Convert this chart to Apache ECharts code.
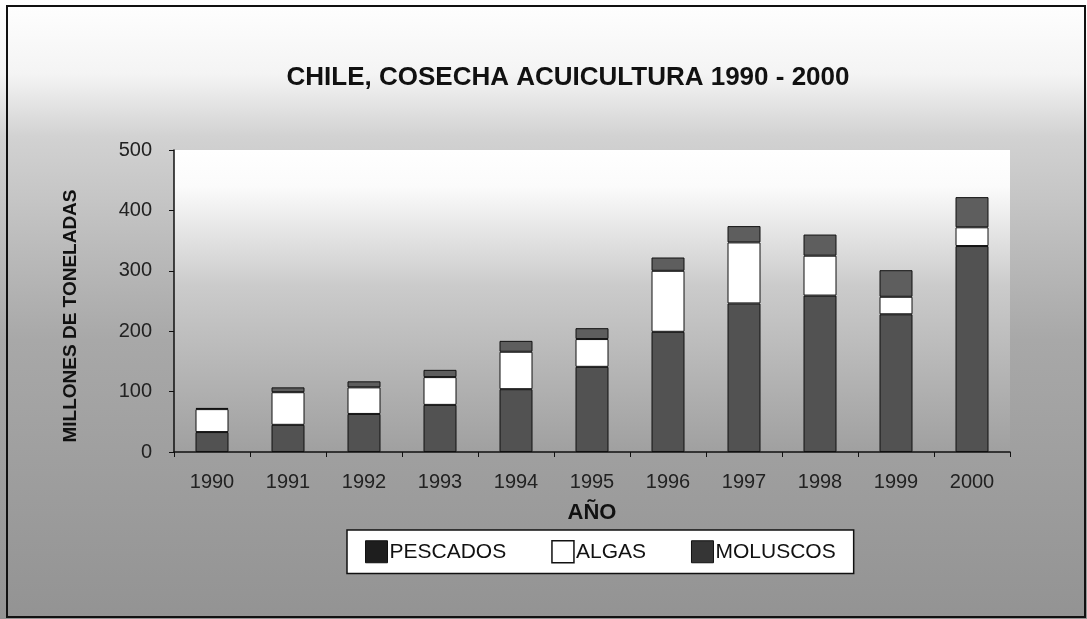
<!DOCTYPE html>
<html lang="es">

<head>
    <meta charset="UTF-8">
    <title>Chile, cosecha acuicultura 1990 - 2000</title>
    <script src="https://cdn.jsdelivr.net/npm/echarts@6/dist/echarts.min.js"></script>
    <style>
        html, body { margin: 0; padding: 0; background: #fff; }
    </style>
</head>

<body>
    <div id="chart" style="width: 1087px; height: 619px;"></div>

    <script>
        // valores (escala 0-500)
        const years = ['1990', '1991', '1992', '1993', '1994', '1995', '1996', '1997', '1998', '1999', '2000'];
        const pescados = [33, 45, 63, 78, 104, 141, 199, 246, 259, 228, 341];
        const algas = [38, 54, 44, 46, 62, 46, 101, 101, 66, 29, 31];
        const moluscos = [2, 8, 10, 12, 18, 18, 22, 27, 35, 44, 50];

        const font = 'Arial, "Liberation Sans", sans-serif';
        const chart = echarts.init(document.getElementById('chart'));

        const barStyle = color => ({
            color: color,
            borderColor: '#111',
            borderWidth: 1
        });

        const option = {
            animation: false,
            backgroundColor: {
                type: 'linear', x: 0, y: 0, x2: 0, y2: 1,
                colorStops: [
                    { offset: 0, color: '#ffffff' },
                    { offset: 0.12, color: '#f4f4f4' },
                    { offset: 0.22, color: '#d2d2d2' },
                    { offset: 0.55, color: '#a8a8a8' },
                    { offset: 1, color: '#939393' }
                ]
            },
            textStyle: { fontFamily: font },
            title: {
                text: 'CHILE, COSECHA ACUICULTURA 1990 - 2000',
                left: 563,
                top: 60,
                textAlign: 'center',
                textStyle: { fontSize: 26, fontWeight: 'bold', color: '#111', fontFamily: font }
            },
            legend: {
                left: 347,
                top: 530,
                padding: [10, 18],
                itemGap: 45,
                itemWidth: 22,
                itemHeight: 22,
                icon: 'rect',
                backgroundColor: '#fff',
                borderColor: '#111',
                borderWidth: 1.5,
                borderRadius: 0,
                textStyle: { fontSize: 21, color: '#111', fontFamily: font, padding: [0, 0, 0, -3] },
                data: [
                    { name: 'PESCADOS', itemStyle: { color: '#1e1e1e', borderColor: '#111', borderWidth: 1 } },
                    { name: 'ALGAS', itemStyle: { color: '#fff', borderColor: '#111', borderWidth: 1.5 } },
                    { name: 'MOLUSCOS', itemStyle: { color: '#353535', borderColor: '#111', borderWidth: 1 } }
                ]
            },
            grid: {
                left: 174,
                right: 77,
                top: 150,
                bottom: 167,
                show: true,
                borderWidth: 0,
                backgroundColor: {
                    type: 'linear', x: 0, y: 0, x2: 0, y2: 1,
                    colorStops: [
                        { offset: 0, color: '#ffffff' },
                        { offset: 0.12, color: '#fbfbfb' },
                        { offset: 0.45, color: '#cbcbcb' },
                        { offset: 1, color: '#a0a0a0' }
                    ]
                }
            },
            xAxis: {
                type: 'category',
                data: years,
                name: 'AÑO',
                nameLocation: 'middle',
                nameGap: 50,
                nameTextStyle: { fontSize: 22, fontWeight: 'bold', color: '#111' },
                axisLine: { lineStyle: { color: '#111', width: 1.5 } },
                axisTick: { show: true, length: 5, lineStyle: { color: '#111' } },
                axisLabel: { fontSize: 20, color: '#222', margin: 20 }
            },
            yAxis: {
                type: 'value',
                min: 0,
                max: 500,
                interval: 100,
                name: 'MILLONES DE TONELADAS',
                nameLocation: 'middle',
                nameGap: 94,
                nameTextStyle: { fontSize: 19, fontWeight: 'bold', color: '#111', padding: [0, 0, 0, -30] },
                axisLine: { show: true, lineStyle: { color: '#111', width: 1.5 } },
                axisTick: { show: true, length: 5, lineStyle: { color: '#111' } },
                axisLabel: { fontSize: 20, color: '#222', margin: 22 },
                splitLine: { show: false }
            },
            series: [
                {
                    name: 'PESCADOS',
                    type: 'bar',
                    stack: 'total',
                    barWidth: 33,
                    data: pescados,
                    itemStyle: barStyle('#525252')
                },
                {
                    name: 'ALGAS',
                    type: 'bar',
                    stack: 'total',
                    barWidth: 33,
                    data: algas,
                    itemStyle: barStyle('#ffffff')
                },
                {
                    name: 'MOLUSCOS',
                    type: 'bar',
                    stack: 'total',
                    barWidth: 33,
                    data: moluscos,
                    itemStyle: barStyle('#5e5e5e')
                }
            ],
            graphic: [
                {
                    type: 'rect',
                    shape: { x: 7, y: 6, width: 1078, height: 611 },
                    style: { fill: 'none', stroke: '#111', lineWidth: 2 },
                    silent: true
                }
            ]
        };

        chart.setOption(option);
    </script>
</body>

</html>
